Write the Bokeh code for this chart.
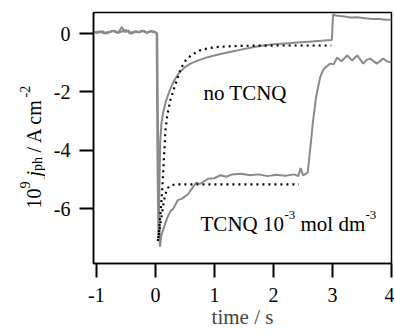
import math
from bokeh.plotting import figure
from bokeh.layouts import row
from bokeh.models import Range1d, FixedTicker, Label
from bokeh.embed import file_html
from bokeh.resources import INLINE

# ---- data ----
t_no = [-1.05, -0.97, -0.9, -0.83, -0.76, -0.7, -0.63, -0.57, -0.52, -0.46, -0.4, -0.33,
        -0.27, -0.2, -0.14, -0.08, -0.03, 0.0, 0.02, 0.035, 0.05, 0.065, 0.08, 0.1, 0.13,
        0.18, 0.25, 0.32, 0.4, 0.5, 0.6, 0.75, 0.9, 1.1, 1.28, 1.45, 1.65, 1.83, 2.0, 2.2,
        2.4, 2.6, 2.8, 2.99, 3.01, 3.05, 3.12, 3.2, 3.3, 3.42, 3.55, 3.68, 3.8, 3.9, 4.0]
j_no = [0.05, 0.02, 0.08, 0.0, 0.06, 0.1, 0.03, 0.22, 0.05, 0.1, 0.0, 0.08,
        0.04, 0.1, 0.02, 0.09, 0.04, 0.05, 0.0, -4.5, -7.0, -5.5, -3.7, -3.1, -2.7,
        -2.3, -1.9, -1.6, -1.35, -1.15, -1.02, -0.9, -0.8, -0.7, -0.62, -0.55, -0.47, -0.41, -0.37, -0.34,
        -0.31, -0.28, -0.25, -0.22, 0.66, 0.62, 0.6, 0.58, 0.55, 0.56, 0.52, 0.5, 0.5, 0.47, 0.47]

t_tc = [-1.05, -0.95, -0.87, -0.8, -0.72, -0.65, -0.58, -0.5, -0.43, -0.36, -0.3, -0.23,
        -0.16, -0.1, -0.04, 0.0, 0.03, 0.05, 0.075, 0.1, 0.15, 0.2, 0.26, 0.3, 0.38, 0.45,
        0.55, 0.62, 0.69, 0.75, 0.89, 1.0, 1.1, 1.2, 1.3, 1.45, 1.6, 1.75, 1.9, 2.05, 2.2,
        2.35, 2.42, 2.46, 2.5, 2.55, 2.58, 2.62, 2.67, 2.72, 2.79, 2.84, 2.88, 2.96, 3.02,
        3.08, 3.15, 3.25, 3.33, 3.42, 3.52, 3.58, 3.64, 3.75, 3.86, 3.92, 4.0]
j_tc = [0.03, 0.07, 0.01, 0.05, 0.09, 0.02, 0.06, 0.12, 0.0, 0.07, 0.04, 0.1,
        0.03, 0.06, 0.08, 0.04, 0.0, -5.0, -7.3, -6.9, -6.6, -6.3, -6.06, -6.0, -5.7, -5.65,
        -5.5, -5.3, -5.1, -5.15, -4.97, -4.95, -4.85, -4.9, -4.82, -4.8, -4.85, -4.82, -4.88, -4.83, -4.87,
        -4.82, -4.88, -4.6, -4.85, -4.8, -4.75, -4.0, -3.0, -2.2, -1.5, -1.25, -1.16, -1.03, -1.05,
        -0.82, -0.95, -0.75, -0.92, -0.75, -1.03, -0.9, -0.86, -1.03, -0.86, -0.95, -0.99]

t_fit_no = [0.05, 0.08, 0.11, 0.14, 0.17, 0.2, 0.25, 0.32, 0.43, 0.5, 0.6, 0.75, 0.9,
            1.1, 1.45, 2.0, 2.98]
j_fit_no = [-7.0, -6.3, -5.5, -4.4, -3.3, -2.8, -2.3, -1.85, -1.2, -0.95, -0.75, -0.58, -0.5,
            -0.45, -0.42, -0.41, -0.41]

t_fit_tc = [0.04, 0.07, 0.1, 0.13, 0.16, 0.2, 0.25, 0.35, 2.43]
j_fit_tc = [-7.1, -6.7, -6.3, -5.9, -5.55, -5.3, -5.2, -5.16, -5.16]

x_ticks = [-1, 0, 1, 2, 3, 4]
x_tick_labels = ["-1", "0", "1", "2", "3", "4"]
y_ticks = [-6, -4, -2, 0]
y_tick_labels = ["-6", "-4", "-2", "0"]

SERIF = "Liberation Serif"
LW = 45  # width of the strip holding the y-axis title
Y0, Y1 = -7.87, 0.72

# ---- main plot ----
p = figure(width=394 - LW, height=333, output_backend="svg", toolbar_location=None,
           x_range=Range1d(-1.05, 4.0), y_range=Range1d(Y0, Y1),
           min_border_left=93 - LW, min_border_right=3, min_border_top=12, min_border_bottom=70)
p.grid.visible = False
p.outline_line_color = "black"
p.outline_line_width = 1.5
p.background_fill_color = "white"
p.border_fill_color = "white"

for ax, ticks, labels in ((p.xaxis[0], x_ticks, x_tick_labels), (p.yaxis[0], y_ticks, y_tick_labels)):
    ax.ticker = FixedTicker(ticks=ticks, minor_ticks=[])
    ax.major_label_overrides = {t: l for t, l in zip(ticks, labels)}
    ax.major_tick_in = 0
    ax.major_tick_out = 14
    ax.minor_tick_in = 0
    ax.minor_tick_out = 0
    ax.major_tick_line_width = 2
    ax.axis_line_width = 1.5
    ax.major_label_text_font = SERIF
    ax.major_label_text_font_size = "20px"
    ax.major_label_text_color = "black"
p.xaxis.major_label_standoff = 10
p.yaxis.major_label_standoff = 9

p.xaxis.axis_label = "time / s"
p.xaxis.axis_label_text_font = SERIF
p.xaxis.axis_label_text_font_size = "21px"
p.xaxis.axis_label_text_font_style = "normal"
p.xaxis.axis_label_standoff = 0

GRAY = "#8a8a8a"
p.line(t_no, j_no, line_color=GRAY, line_width=2)
p.line(t_tc, j_tc, line_color=GRAY, line_width=2)
p.line(t_fit_no, j_fit_no, line_color="black", line_width=2.2, line_dash="2 4")
p.line(t_fit_tc, j_fit_tc, line_color="black", line_width=2.2, line_dash="2 4")


def lab(fig, x, y, text, size, style="normal", angle=0.0):
    fig.add_layout(Label(x=x, y=y, text=text, text_font=SERIF, text_font_size=size,
                         text_font_style=style, text_color="black", angle=angle,
                         text_align="left", text_baseline="alphabetic"))


# curve labels
lab(p, 0.814, -2.02, "no TCNQ", "21px")
lab(p, 0.764, -6.535, "TCNQ 10", "21px")
lab(p, 2.187, -6.227, "-3", "13px")
lab(p, 2.458, -6.535, "mol dm", "21px")
lab(p, 3.560, -6.227, "-3", "13px")

# ---- strip for the y-axis title: same vertical frame and range as the plot ----
yl = figure(width=LW, height=333, output_backend="svg", toolbar_location=None,
            x_range=Range1d(0, LW), y_range=Range1d(Y0, Y1),
            x_axis_type=None, y_axis_type=None,
            min_border_left=0, min_border_right=0, min_border_top=12, min_border_bottom=70)
yl.grid.visible = False
yl.outline_line_color = None
yl.background_fill_color = "white"
yl.border_fill_color = "white"

A = math.pi / 2
lab(yl, 33, -5.988, "10", "20px", angle=A)
lab(yl, 24, -5.303, "9", "14px", angle=A)
lab(yl, 33, -4.893, "j", "20px", style="italic", angle=A)
lab(yl, 37, -4.701, "ph", "14px", angle=A)
lab(yl, 33, -4.071, "/ A cm", "20px", angle=A)
lab(yl, 24, -2.189, "-2", "14px", angle=A)

layout = row(yl, p)
open("out.html", "w").write(file_html(layout, INLINE))
